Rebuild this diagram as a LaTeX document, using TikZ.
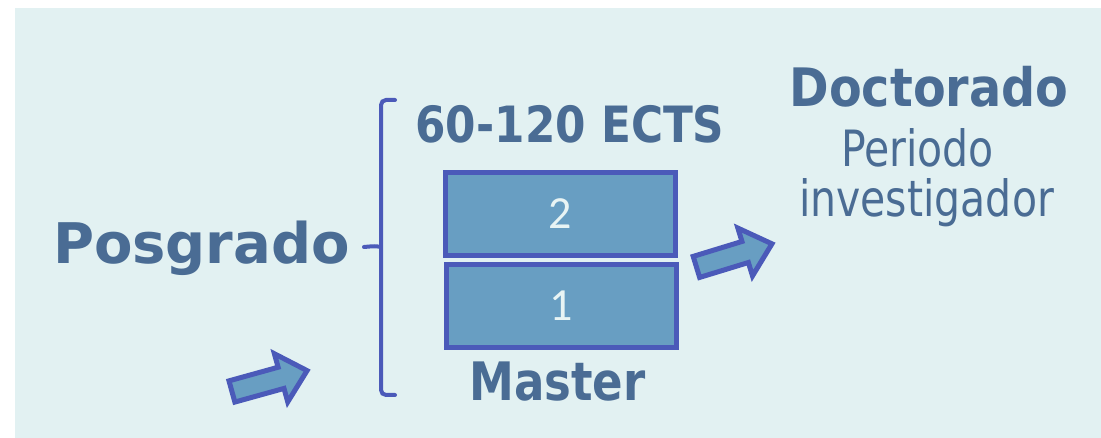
\documentclass[tikz,border=0pt]{standalone}
\usepackage{fontspec}
\newfontfamily\tahb{DejaVu Sans Bold}
\newfontfamily\tahr[FakeStretch=0.82]{DejaVu Sans}
\newfontfamily\calib{Carlito}
\definecolor{bgc}{HTML}{E2F1F2}
\definecolor{txtc}{HTML}{4A6C94}
\definecolor{linec}{HTML}{4B5AB9}
\definecolor{boxc}{HTML}{689EC2}
\definecolor{numc}{HTML}{E8F4F4}
\begin{document}
\begin{tikzpicture}[x=1pt,y=-1pt,
  bigtxt/.style={text=txtc,inner sep=0,anchor=base,font=\tahb\fontsize{56}{60}\selectfont},
  midtxt/.style={text=txtc,inner sep=0,anchor=base},
  regtxt/.style={text=txtc,inner sep=0,anchor=base,font=\tahr\fontsize{50}{56}\selectfont},
  yearbox/.style={draw=linec,line width=5pt,fill=boxc,minimum width=230pt,minimum height=83pt,inner sep=0,
     text=numc,font=\calib\fontsize{46}{50}\selectfont},
  bracel/.style={draw=linec,line width=4pt,line cap=round,rounded corners=5pt},
  blockarrow/.style={draw=linec,fill=boxc,line width=5pt,line join=miter}]
\useasboundingbox (0,0) rectangle (1101,438);
\fill[bgc] (15,8) rectangle (1101,438);
% texts
\node[bigtxt] (posgrado) at (201.5,264) {Posgrado};
\node[midtxt,font=\tahb\addfontfeature{FakeStretch=0.875}\fontsize{50}{56}\selectfont] (ects) at (570,143) {60-120 ECTS};
\node[midtxt,font=\tahb\addfontfeature{FakeStretch=0.85}\fontsize{53}{56}\selectfont] (master) at (557.5,400) {Master};
\node[midtxt,font=\tahb\addfontfeature{FakeStretch=0.9}\fontsize{53}{56}\selectfont] (doct) at (929,107) {Doctorado};
\node[regtxt] (periodo) at (917.5,167) {Periodo};
\node[regtxt] (invest) at (926.5,217) {investigador};
% boxes
\node[yearbox] (y2) at (560.5,214) {2};
\node[yearbox] (y1) at (561.5,306) {1};
% brace
\coordinate (bt) at (395,100);
\coordinate (bb) at (395,395);
\coordinate (bm) at (381,247);
\coordinate (btick) at (364,247);
\draw[bracel] (bt) -- (381,100) -- (381,395) -- (bb);
\draw[bracel] (bm) .. controls (375,246) .. (btick);
% arrows
\begin{scope}[shift={(230,392)},rotate=15.5]
\draw[blockarrow] (2,-11) -- (53,-11) -- (53,-25) -- (80,0) -- (53,25) -- (53,11) -- (2,11) -- cycle;
\end{scope}
\begin{scope}[shift={(694.5,267.5)},rotate=17]
\draw[blockarrow] (2,-11) -- (53,-11) -- (53,-25) -- (81,0) -- (53,25) -- (53,11) -- (2,11) -- cycle;
\end{scope}
\end{tikzpicture}
\end{document}
